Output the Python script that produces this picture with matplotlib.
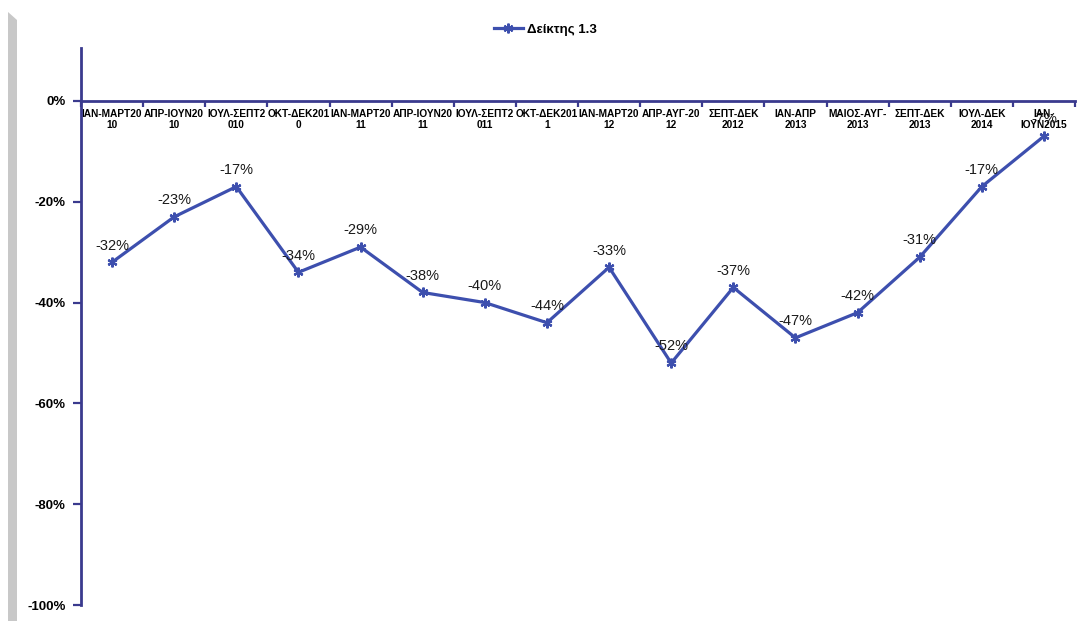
import matplotlib.pyplot as plt
from matplotlib.patches import Polygon
from matplotlib.lines import Line2D
from matplotlib.ticker import FixedLocator, PercentFormatter

plt.rcParams['font.family'] = ['Liberation Sans', 'DejaVu Sans']
plt.rcParams['axes.unicode_minus'] = False

# data
periods = ["ΙΑΝ-ΜΑΡΤ20\n10", "ΑΠΡ-ΙΟΥΝ20\n10", "ΙΟΥΛ-ΣΕΠΤ2\n010", "ΟΚΤ-ΔΕΚ201\n0",
           "ΙΑΝ-ΜΑΡΤ20\n11", "ΑΠΡ-ΙΟΥΝ20\n11", "ΙΟΥΛ-ΣΕΠΤ2\n011", "ΟΚΤ-ΔΕΚ201\n1",
           "ΙΑΝ-ΜΑΡΤ20\n12", "ΑΠΡ-ΑΥΓ-20\n12", "ΣΕΠΤ-ΔΕΚ\n2012", "ΙΑΝ-ΑΠΡ\n2013",
           "ΜΑΙΟΣ-ΑΥΓ-\n2013", "ΣΕΠΤ-ΔΕΚ\n2013", "ΙΟΥΛ-ΔΕΚ\n2014", "ΙΑΝ-\nΙΟΥΝ2015"]
index_values = [-32, -23, -17, -34, -29, -38, -40, -44, -33, -52, -37, -47, -42, -31, -17, -7]
y_ticks = [0, -20, -40, -60, -80, -100]
series_name = "Δείκτης 1.3"

line_color = '#3D4FAE'
axis_color = '#3A3A8E'

fig = plt.figure(figsize=(10.87, 6.21), dpi=100)
ax = fig.add_axes([81 / 1087, 1 - 605 / 621, (1075 - 81) / 1087, (605 - 48) / 621])

# grey strip on the left side of the frame
W, H = 1087, 621
strip = Polygon([(8 / W, 0), (8 / W, 1 - 12 / H), (17 / W, 1 - 20 / H), (17 / W, 0)],
                closed=True, transform=fig.transFigure, facecolor='#C8C8C8',
                edgecolor='none', zorder=0)
fig.patches.append(strip)

x = list(range(len(index_values)))
ax.plot(x, index_values, color=line_color, linewidth=2.3,
        marker=(6, 2, 0), markersize=7, markeredgewidth=1.6,
        markeredgecolor=line_color, zorder=3)

for xi, v in zip(x, index_values):
    ax.annotate(f"{v}%", (xi, v), xytext=(0, 7), textcoords='offset points',
                ha='center', va='bottom', fontsize=10.5, color='#1a1a1a', zorder=4)

ax.set_xlim(-0.5, len(index_values) - 0.5)
ax.set_ylim(-100, 10.5)

# y axis
ax.yaxis.set_major_locator(FixedLocator(y_ticks))
ax.yaxis.set_major_formatter(PercentFormatter(decimals=0))
ax.tick_params(axis='y', length=6, width=1.6, color=axis_color, pad=5,
               labelsize=9.5)
for lbl in ax.get_yticklabels():
    lbl.set_fontweight('bold')

# x axis sits on the 0% line
ax.spines['bottom'].set_position(('data', 0))
ax.spines['bottom'].set_color(axis_color)
ax.spines['bottom'].set_linewidth(2)
ax.spines['left'].set_color(axis_color)
ax.spines['left'].set_linewidth(2)
ax.spines['top'].set_visible(False)
ax.spines['right'].set_visible(False)

ax.set_xticks([i - 0.5 for i in range(len(index_values) + 1)])
ax.set_xticklabels([])
ax.tick_params(axis='x', which='major', length=4, width=1.6, color=axis_color)
ax.set_xticks(x, minor=True)
ax.set_xticklabels(periods, minor=True, fontsize=7.3, fontweight='bold',
                   linespacing=1.1)
ax.tick_params(axis='x', which='minor', length=0, pad=6)

# legend
handle = Line2D([0], [0], color=line_color, linewidth=2.3, marker=(6, 2, 0),
                markersize=7, markeredgewidth=1.6, markeredgecolor=line_color)
fig.legend([handle], [series_name], loc='center', bbox_to_anchor=(545 / W, 1 - 30 / H),
           frameon=False, prop={'weight': 'bold', 'size': 9.5}, handlelength=2.2,
           handletextpad=0.3)

fig.savefig('out.png', dpi=100)
